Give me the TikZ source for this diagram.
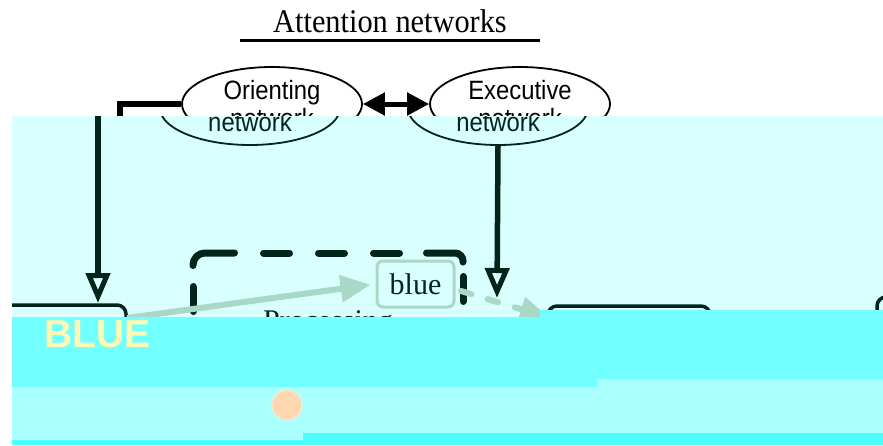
\documentclass[tikz,border=0pt]{standalone}
\usepackage{fontspec}
\setmainfont{Liberation Serif}
\newfontfamily\arial[FakeStretch=0.9]{Liberation Sans}
\newfontfamily\arialb{Liberation Sans}
\newfontfamily\titlefont[FakeStretch=0.92]{Liberation Serif}
\usetikzlibrary{arrows.meta,shapes.geometric}
\definecolor{ovA}{HTML}{DAFFFF}
\definecolor{bandA}{HTML}{72FFFF}
\definecolor{bandB}{HTML}{AAFFFF}
\definecolor{bandC}{HTML}{4EFFFF}
\definecolor{dk}{HTML}{03241A}
\definecolor{lg}{HTML}{A8D8C6}
\definecolor{yel}{HTML}{FFF7B2}
\definecolor{peach}{HTML}{FFD7B0}
\definecolor{peachedge}{HTML}{FFEACB}
\begin{document}
\begin{tikzpicture}[x=1pt,y=-1pt,
  net/.style={ellipse,draw,line width=1.8pt,minimum width=180pt,minimum height=74pt,inner sep=0pt,align=center,font=\arial\fontsize{26.5}{28}\selectfont},
  heavy/.style={line width=5.5pt,line join=miter},
  openhead/.style={-{Triangle[open,length=30pt,width=24pt,line width=5pt]}},
  dashbox/.style={dk,line width=7pt,line cap=round},
  boxline/.style={dk,line width=3.5pt,rounded corners=9pt},
  garrow/.style={lg,line width=6pt,-{Triangle[length=30pt,width=26pt]}},
  gdash/.style={lg,line width=6pt,line cap=round,dash pattern=on 11pt off 17pt,-{Triangle[length=30pt,width=24pt]}},
]
\useasboundingbox (0,0) rectangle (883,445);
\begin{scope}
\clip (12,0) rectangle (883,445);
% ---- top part (untouched) ----
\node[anchor=base,inner sep=0pt,font=\titlefont\fontsize{33}{38}\selectfont] (title) at (390,32) {Attention networks};
\coordinate (ul1) at (240,40);
\coordinate (ul2) at (540,40);
\draw[line width=3pt] (ul1) -- (ul2);
\node[net] (ori) at (272,104) {Orienting\\network};
\node[net] (exe) at (520,104) {Executive\\network};
\draw[line width=5pt,{Triangle[length=22pt,width=22pt]}-{Triangle[length=22pt,width=22pt]}] (ori) -- (exe);
\coordinate (brk) at (120,140);
\draw[heavy] (ori.west) -| (brk);
% ---- tinted overlay ----
\fill[ovA] (12,116) rectangle (883,445);
\begin{scope}
\clip (12,116) rectangle (883,445);
\begin{scope}[shift={(-22,4)}]
  \node[net,draw=dk,text=dk] (ori2) at (272,104) {Orienting\\network};
  \node[net,draw=dk,text=dk] (exe2) at (520,104) {Executive\\network};
  \coordinate (ltip) at (120,299);
  \coordinate (etip) at (519,294);
  \draw[heavy,dk,openhead] (ori2.west) -| (ltip);
  \draw[heavy,dk,openhead] (exe2.south) -- (etip);
\end{scope}
% dashed processing box
\draw[dashbox,rounded corners=12pt] (193,265.5) |- (234.5,253);
\draw[dashbox,dash pattern=on 26pt off 29pt] (263.5,253) -- (400,253);
\draw[dashbox,rounded corners=8pt] (426.5,253) -| (463,262);
\draw[dashbox,dash pattern=on 25pt off 30pt] (463,276.5) -- (463,330);
\draw[dashbox,dash pattern=on 25pt off 30pt] (193,286.5) -- (193,340);
\node[anchor=base,inner sep=0pt,text=dk,font=\fontsize{30}{36}\selectfont] (proc) at (328,330) {Processing};
% boxes
\coordinate (s1) at (0,305);
\coordinate (s2) at (126,340);
\draw[boxline] (s1) -| (s2);
\coordinate (r1) at (548,340);
\coordinate (r2) at (710,306);
\coordinate (r3) at (710,340);
\draw[boxline] (r1) |- (r2) -- (r3);
\coordinate (f1) at (877,340);
\coordinate (f2) at (930,297);
\draw[boxline] (f1) |- (f2);
% word box
\node[draw=lg,line width=3pt,rounded corners=6pt,minimum width=77pt,minimum height=46pt,inner sep=0pt,text=dk,font=\fontsize{30}{34}\selectfont] (bluebox) at (415.5,284) {blue};
\coordinate (g0) at (127,318);
\draw[garrow,shorten >=5pt] (g0) -- (bluebox.west);
\coordinate (g1) at (461,291);
\coordinate (g2) at (550,318);
\draw[gdash] (g1) -- (g2);
\end{scope}
% ---- bright bands ----
\fill[bandA] (12,317) -- (540,317) -- (540,310) -- (883,310) -- (883,379) -- (597,379) -- (597,387) -- (12,387) -- cycle;
\fill[bandB] (12,387) -- (597,387) -- (597,379) -- (883,379) -- (883,433) -- (303,433) -- (303,440) -- (12,440) -- cycle;
\fill[bandC] (12,440) -- (303,440) -- (303,433) -- (883,433) -- (883,445) -- (12,445) -- cycle;
\node[anchor=base west,inner sep=0pt,text=yel,font=\arialb\bfseries\fontsize{39}{44}\selectfont] (word) at (44,347) {BLUE};
\node[circle,fill=peach,draw=peachedge,line width=1pt,minimum size=30pt,inner sep=0pt] (dot) at (287,405) {};
\end{scope}
\end{tikzpicture}
\end{document}
